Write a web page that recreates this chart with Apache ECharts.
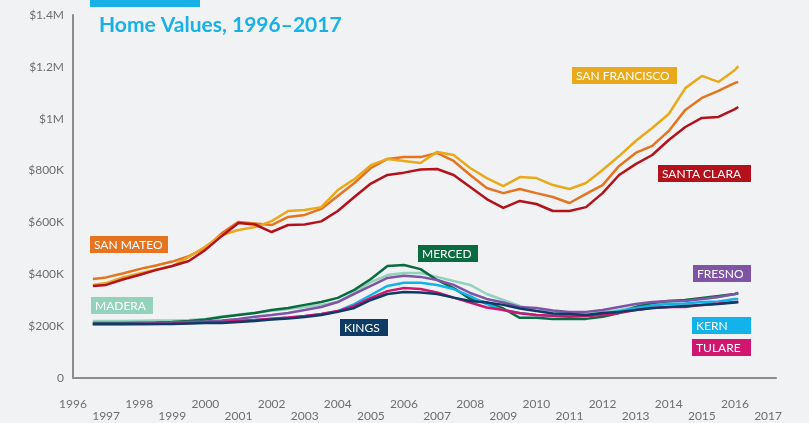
<!DOCTYPE html>
<html>
<head>
<meta charset="utf-8">
<script src="https://cdn.jsdelivr.net/npm/echarts@6/dist/echarts.min.js"></script>
<style>
  html, body { margin: 0; padding: 0; background: #f1f2f4; }
  #chart { width: 809px; height: 423px; }
</style>
</head>
<body>
<div id="chart"></div>
<script>
// sample dates (decimal years), values in $K
const years = [1996.6, 1997, 1997.5, 1998, 1998.5, 1999, 1999.5, 2000, 2000.5, 2001, 2001.5,
  2002, 2002.5, 2003, 2003.5, 2004, 2004.5, 2005, 2005.5, 2006, 2006.5, 2007, 2007.5,
  2008, 2008.5, 2009, 2009.5, 2010, 2010.5, 2011, 2011.5, 2012, 2012.5, 2013, 2013.5,
  2014, 2014.5, 2015, 2015.5, 2016, 2016.1];

const sanFrancisco = [359, 366, 388, 403, 418, 432, 467, 507, 551, 571, 582,
  605, 644, 648, 659, 725, 767, 821, 845, 837, 829, 872, 860,
  810, 771, 740, 775, 771, 744, 729, 752, 802, 856, 914, 964,
  1018, 1118, 1165, 1142, 1188, 1203];
const sanMateo = [382, 388, 403, 420, 434, 449, 470, 501, 559, 602, 596,
  590, 621, 629, 652, 702, 752, 810, 845, 852, 852, 868, 837,
  783, 733, 713, 729, 713, 698, 675, 710, 744, 818, 868, 895,
  953, 1034, 1080, 1107, 1138, 1142];
const santaClara = [355, 359, 380, 397, 416, 432, 451, 494, 548, 598, 592,
  563, 590, 592, 604, 644, 698, 750, 783, 792, 804, 806, 783,
  737, 690, 656, 683, 671, 644, 644, 659, 713, 783, 825, 860,
  918, 968, 1003, 1007, 1037, 1045];
const merced = [212, 212, 212, 213, 214, 216, 220, 226, 235, 243, 251,
  262, 270, 282, 293, 309, 340, 382, 432, 436, 420, 378, 347,
  305, 291, 268, 232, 232, 228, 228, 228, 236, 251, 274, 289,
  297, 301, 309, 316, 324, 328];
const madera = [220, 220, 220, 221, 222, 222, 224, 228, 237, 245, 252,
  259, 266, 274, 282, 293, 328, 370, 397, 405, 405, 390, 374,
  359, 324, 301, 278, 260, 255, 251, 251, 255, 262, 274, 285,
  293, 301, 305, 312, 324, 328];
const fresno = [208, 208, 208, 210, 212, 214, 216, 218, 222, 228, 236,
  243, 251, 262, 274, 293, 324, 355, 386, 394, 390, 378, 359,
  328, 305, 291, 274, 270, 260, 255, 255, 262, 274, 285, 293,
  297, 297, 305, 312, 324, 328];
const kern = [208, 208, 208, 208, 208, 210, 212, 214, 217, 220, 224,
  228, 232, 238, 246, 258, 285, 320, 355, 367, 367, 359, 343,
  316, 285, 262, 251, 243, 239, 239, 239, 247, 258, 270, 280,
  285, 287, 293, 295, 305, 305];
const tulare = [208, 208, 208, 208, 209, 210, 212, 214, 217, 220, 224,
  229, 233, 239, 247, 258, 278, 309, 335, 347, 343, 330, 310,
  291, 272, 262, 250, 243, 240, 236, 239, 243, 251, 262, 270,
  274, 274, 282, 287, 293, 293];
const kings = [208, 208, 208, 208, 208, 208, 210, 212, 212, 216, 220,
  226, 229, 235, 243, 255, 270, 301, 324, 332, 330, 324, 310,
  297, 291, 282, 268, 258, 249, 247, 243, 251, 255, 262, 270,
  274, 278, 282, 285, 291, 293];

const seriesList = [
  { name: 'MADERA', data: madera, color: '#93d3bc' },
  { name: 'MERCED', data: merced, color: '#0b6b40' },
  { name: 'FRESNO', data: fresno, color: '#7f54a6' },
  { name: 'KERN', data: kern, color: '#12b3ea' },
  { name: 'TULARE', data: tulare, color: '#d1166f' },
  { name: 'KINGS', data: kings, color: '#0d3b66' },
  { name: 'SAN MATEO', data: sanMateo, color: '#e5731f' },
  { name: 'SAN FRANCISCO', data: sanFrancisco, color: '#e9a91b' },
  { name: 'SANTA CLARA', data: santaClara, color: '#b3111c' }
];

const FONT = 'Lato, "Open Sans", sans-serif';

// annotation boxes: [text, x, y, w, bg]
const tags = [
  ['SAN FRANCISCO', 572, 67, 105, '#e9a91b'],
  ['SANTA CLARA', 658, 165, 93, '#b3111c'],
  ['SAN MATEO', 90, 236, 78, '#e5731f'],
  ['MERCED', 418, 245, 60, '#0b6b40'],
  ['MADERA', 91, 297, 62, '#93d3bc'],
  ['KINGS', 340, 319, 48, '#0d3b66'],
  ['FRESNO', 693, 265, 58, '#7f54a6'],
  ['KERN', 692, 317, 59, '#12b3ea'],
  ['TULARE', 692, 339, 59, '#d1166f']
];

const chart = echarts.init(document.getElementById('chart'), null, { renderer: 'canvas' });

chart.setOption({
  backgroundColor: '#f1f2f4',
  animation: false,
  title: {
    text: 'Home Values, 1996\u20132017',
    left: 94,
    top: 10,
    textStyle: { color: '#17b1e8', fontSize: 21, fontWeight: 'bold', fontFamily: FONT }
  },
  grid: { left: 73, right: 33, top: 15, bottom: 45 },
  xAxis: {
    type: 'value',
    min: 1996,
    max: 2017.24, // axis line runs a little past the 2017 label
    interval: 1,
    axisLine: { show: true, lineStyle: { color: '#8c8c8c', width: 2 } },
    axisTick: { show: false },
    splitLine: { show: false },
    axisLabel: {
      color: '#6f6f6f',
      fontSize: 12,
      fontFamily: FONT,
      margin: 20,
      lineHeight: 12,
      showMaxLabel: false,
      formatter: (v) => {
        if (Math.abs(v - Math.round(v)) > 0.01) return '';
        v = Math.round(v);
        return v % 2 === 1 ? '\n' + v : String(v);
      }
    }
  },
  yAxis: {
    type: 'value',
    min: 0,
    max: 1400,
    interval: 200,
    axisLine: { show: true, lineStyle: { color: '#8c8c8c', width: 2 } },
    axisTick: { show: false },
    splitLine: { show: false },
    axisLabel: {
      color: '#6f6f6f',
      fontSize: 12,
      fontFamily: FONT,
      margin: 9,
      formatter: (v) => (v === 0 ? '0' : v >= 1000 ? '$' + v / 1000 + 'M' : '$' + v + 'K')
    }
  },
  series: seriesList.map((s) => ({
    name: s.name,
    type: 'line',
    data: years.map((y, i) => [y, s.data[i]]),
    symbol: 'none',
    lineStyle: { color: s.color, width: 2.5 },
    itemStyle: { color: s.color }
  })),
  graphic: [
    { type: 'rect', left: 90, top: 0, shape: { width: 110, height: 7 }, style: { fill: '#17b1e8' } }
  ].concat(tags.map(([text, x, y, w, bg]) => ({
    type: 'group',
    left: x,
    top: y,
    children: [
      { type: 'rect', shape: { x: 0, y: 0, width: w, height: 17 }, style: { fill: bg } },
      {
        type: 'text',
        x: 4,
        y: 9,
        style: {
          text: text,
          fill: '#ffffff',
          font: '12px ' + FONT,
          verticalAlign: 'middle'
        }
      }
    ]
  })))
});
</script>
</body>
</html>
